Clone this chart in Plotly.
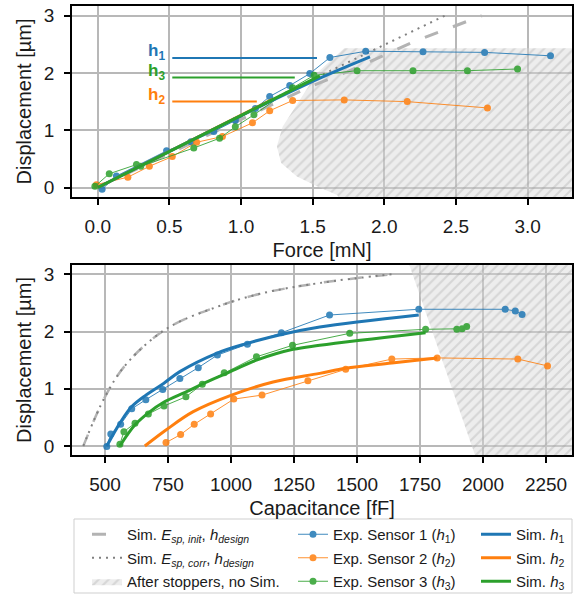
import plotly.graph_objects as go

BLUE = '#1f77b4'
ORANGE = '#ff7f0e'
GREEN = '#2ca02c'
GRAY_DASH = '#b3b3b3'
GRAY_DOT = '#808080'

# ---------------- Top panel: Force [mN] vs Displacement [um] ----------------
exp1_force = [0.03, 0.13, 0.48, 0.65, 0.81, 0.96, 1.10, 1.20, 1.34, 1.48, 1.62, 1.87, 2.27, 2.70, 3.16]
exp1_disp = [-0.03, 0.20, 0.64, 0.80, 0.98, 1.17, 1.38, 1.59, 1.78, 1.99, 2.27, 2.38, 2.37, 2.36, 2.30]
exp2_force = [-0.01, 0.21, 0.36, 0.52, 0.69, 0.87, 1.08, 1.20, 1.36, 1.72, 2.16, 2.72]
exp2_disp = [0.05, 0.18, 0.37, 0.54, 0.79, 0.89, 1.13, 1.34, 1.52, 1.53, 1.50, 1.39]
exp3_force = [-0.02, 0.08, 0.27, 0.30, 0.67, 0.85, 0.96, 1.09, 1.36, 1.51, 1.81, 2.20, 2.58, 2.93]
exp3_disp = [0.02, 0.24, 0.40, 0.37, 0.69, 0.86, 1.06, 1.27, 1.74, 1.96, 2.04, 2.04, 2.04, 2.07]

sim1_force = [0, 1.41, 1.90]
sim1_disp = [0, 1.75, 2.28]
sim2_force = [0, 1.22]
sim2_disp = [0, 1.54]
sim3_force = [0, 1.55]
sim3_disp = [0, 1.95]

init_force = [0, 1.26, 1.48, 1.74, 2.21, 2.68]
init_disp = [0, 1.50, 1.76, 2.02, 2.55, 3.00]
corr_force = [0, 1.41, 2.43]
corr_disp = [0, 1.78, 3.01]

stop_force = [1.72, 1.53, 1.41, 1.29, 1.25, 1.28, 1.39, 1.53, 1.67, 1.72, 3.5, 3.5, 1.72]
stop_disp = [2.43, 2.00, 1.53, 1.06, 0.72, 0.43, 0.19, 0.02, -0.13, -0.3, -0.3, 2.43, 2.43]

# gap marker lines (h1, h2, h3)
gap_names = ['h<sub>1</sub>', 'h<sub>2</sub>', 'h<sub>3</sub>']
gap_levels = [2.26, 1.50, 1.92]
gap_line_start = [0.52, 0.52, 0.52]
gap_line_end = [1.53, 1.11, 1.375]
gap_colors = [BLUE, ORANGE, GREEN]

# ---------------- Bottom panel: Capacitance [fF] vs Displacement [um] --------
exp1_cap = [507, 523, 562, 606, 662, 729, 797, 870, 946, 1065, 1200, 1391, 1745, 2088, 2128, 2155]
exp1_disp_c = [-0.01, 0.21, 0.38, 0.65, 0.81, 0.99, 1.18, 1.37, 1.59, 1.78, 1.98, 2.29, 2.39, 2.39, 2.36, 2.30]
exp2_cap = [742, 800, 854, 919, 1011, 1123, 1305, 1455, 1638, 1818, 2138, 2256]
exp2_disp_c = [0.06, 0.20, 0.38, 0.56, 0.82, 0.89, 1.14, 1.34, 1.52, 1.54, 1.52, 1.40]
exp3_cap = [559, 575, 619, 672, 734, 821, 886, 973, 1101, 1244, 1471, 1772, 1896, 1917, 1935]
exp3_disp_c = [0.03, 0.25, 0.40, 0.56, 0.70, 0.86, 1.08, 1.28, 1.56, 1.76, 1.97, 2.04, 2.04, 2.05, 2.09]

sim1_cap = [507, 559, 606, 662, 731, 797, 943, 1061, 1200, 1352, 1745]
sim1_disp_c = [0, 0.40, 0.69, 0.89, 1.09, 1.30, 1.62, 1.79, 1.95, 2.08, 2.29]
sim2_cap = [658, 742, 850, 1002, 1167, 1352, 1455, 1638, 1818]
sim2_disp_c = [0, 0.28, 0.60, 0.89, 1.12, 1.27, 1.36, 1.45, 1.54]
sim3_cap = [559, 619, 672, 731, 824, 889, 982, 1101, 1246, 1352, 1772]
sim3_disp_c = [0, 0.37, 0.58, 0.76, 0.95, 1.09, 1.27, 1.50, 1.69, 1.76, 1.98]

design_cap = [414, 500, 586, 744, 943, 1114, 1352, 1655]
design_disp_c = [0, 0.86, 1.44, 2.05, 2.43, 2.66, 2.85, 3.01]

stop_cap = [1697, 1979, 2450, 2450, 1697]
stop_disp_c = [3.3, -0.3, -0.3, 3.3, 3.3]

FONT = 'Liberation Sans, Arial, sans-serif'
TXT = '#1a1a1a'

fig = go.Figure()

hatch = dict(fill='toself', mode='lines', line=dict(width=0), fillcolor='rgba(200,200,200,0.45)',
             fillpattern=dict(shape='/', fgcolor='rgba(150,150,150,0.55)', bgcolor='rgba(215,215,215,0.45)',
                              size=7, solidity=0.3, fillmode='overlay'),
             hoverinfo='skip')

# hatched regions
fig.add_trace(go.Scatter(x=stop_force, y=stop_disp, xaxis='x', yaxis='y', name='After stoppers, no Sim.',
                         legend='legend', legendrank=3, legendgroup='stop', **hatch))
fig.add_trace(go.Scatter(x=stop_cap, y=stop_disp_c, xaxis='x2', yaxis='y2', name='After stoppers, no Sim.',
                         legendgroup='stop', showlegend=False, **hatch))

# gray simulated design lines
init_name = 'Sim. <i>E</i><sub><i>sp, init</i></sub>, <i>h</i><sub><i>design</i></sub>'
corr_name = 'Sim. <i>E</i><sub><i>sp, corr</i></sub>, <i>h</i><sub><i>design</i></sub>'
fig.add_trace(go.Scatter(x=init_force, y=init_disp, xaxis='x', yaxis='y', mode='lines', name=init_name,
                         line=dict(color=GRAY_DASH, width=3, dash='14px,16px'),
                         legend='legend', legendrank=1, legendgroup='init'))
fig.add_trace(go.Scatter(x=design_cap, y=design_disp_c, xaxis='x2', yaxis='y2', mode='lines', name=init_name,
                         line=dict(color=GRAY_DASH, width=2.5, dash='12px,14px', shape='spline'),
                         showlegend=False, legendgroup='init'))
fig.add_trace(go.Scatter(x=corr_force, y=corr_disp, xaxis='x', yaxis='y', mode='lines', name=corr_name,
                         line=dict(color=GRAY_DOT, width=2, dash='2px,5px'),
                         legend='legend', legendrank=2, legendgroup='corr'))
fig.add_trace(go.Scatter(x=design_cap, y=design_disp_c, xaxis='x2', yaxis='y2', mode='lines', name=corr_name,
                         line=dict(color=GRAY_DOT, width=2, dash='2px,5px', shape='spline'),
                         showlegend=False, legendgroup='corr'))

# experiments
exps = [
    (exp1_force, exp1_disp, exp1_cap, exp1_disp_c, BLUE, 'Exp. Sensor 1 (<i>h</i><sub>1</sub>)', 'e1'),
    (exp2_force, exp2_disp, exp2_cap, exp2_disp_c, ORANGE, 'Exp. Sensor 2 (<i>h</i><sub>2</sub>)', 'e2'),
    (exp3_force, exp3_disp, exp3_cap, exp3_disp_c, GREEN, 'Exp. Sensor 3 (<i>h</i><sub>3</sub>)', 'e3'),
]
for i, (fx, fy, cx, cy, col, nm, grp) in enumerate(exps):
    fig.add_trace(go.Scatter(x=fx, y=fy, xaxis='x', yaxis='y', mode='lines+markers', name=nm,
                             line=dict(color=col, width=1), marker=dict(color=col, size=7),
                             opacity=0.85, legend='legend2', legendrank=i + 1, legendgroup=grp))
    fig.add_trace(go.Scatter(x=cx, y=cy, xaxis='x2', yaxis='y2', mode='lines+markers', name=nm,
                             line=dict(color=col, width=1), marker=dict(color=col, size=7),
                             opacity=0.85, showlegend=False, legendgroup=grp))

# simulations
sims = [
    (sim2_force, sim2_disp, sim2_cap, sim2_disp_c, ORANGE, 'Sim. <i>h</i><sub>2</sub>', 's2', 2),
    (sim1_force, sim1_disp, sim1_cap, sim1_disp_c, BLUE, 'Sim. <i>h</i><sub>1</sub>', 's1', 1),
    (sim3_force, sim3_disp, sim3_cap, sim3_disp_c, GREEN, 'Sim. <i>h</i><sub>3</sub>', 's3', 3),
]
for fx, fy, cx, cy, col, nm, grp, rk in sims:
    fig.add_trace(go.Scatter(x=fx, y=fy, xaxis='x', yaxis='y', mode='lines', name=nm,
                             line=dict(color=col, width=3, shape='spline'),
                             legend='legend3', legendrank=rk, legendgroup=grp))
    fig.add_trace(go.Scatter(x=cx, y=cy, xaxis='x2', yaxis='y2', mode='lines', name=nm,
                             line=dict(color=col, width=3, shape='spline'),
                             showlegend=False, legendgroup=grp))

# gap lines and labels
label_x = 0.41
label_dy = 0.1
for nm, lvl, x0, x1, col in zip(gap_names, gap_levels, gap_line_start, gap_line_end, gap_colors):
    fig.add_shape(type='line', xref='x', yref='y', x0=x0, x1=x1, y0=lvl, y1=lvl,
                  line=dict(color=col, width=2))
    fig.add_annotation(x=label_x, y=lvl + label_dy, xref='x', yref='y', text='<b>' + nm + '</b>',
                       showarrow=False, font=dict(size=17, color=col, family=FONT))

axis_common = dict(showline=True, linecolor='black', linewidth=1.5, mirror=True,
                   ticks='outside', ticklen=6, tickwidth=1.5, tickcolor='black',
                   showgrid=True, gridcolor='#b8b8b8', gridwidth=1.5, zeroline=False,
                   tickfont=dict(size=19, color=TXT, family=FONT),
                   title_font=dict(size=20, color=TXT, family=FONT))

PLOT_TOP, PLOT_BOT = 6, 455
H = PLOT_BOT - PLOT_TOP

def ydom(top_px, bot_px):
    return [(PLOT_BOT - bot_px) / H, (PLOT_BOT - top_px) / H]

def ypaper(px):
    return (PLOT_BOT - px) / H

W = 574 - 72 - 2

def xpaper(px):
    return (px - 72) / W

legend_style = dict(xanchor='left', yanchor='top', bgcolor='rgba(0,0,0,0)',
                    font=dict(size=15, color=TXT, family=FONT), tracegroupgap=1, itemwidth=30)

fig.update_layout(
    width=574, height=595,
    margin=dict(l=72, r=2, t=PLOT_TOP, b=595 - PLOT_BOT, autoexpand=False),
    plot_bgcolor='white', paper_bgcolor='white',
    font=dict(family=FONT, color=TXT),
    xaxis=dict(domain=[0, 1], anchor='y', range=[-0.18, 3.31], tickvals=[0, 0.5, 1, 1.5, 2, 2.5, 3],
               ticktext=['0.0', '0.5', '1.0', '1.5', '2.0', '2.5', '3.0'], ticklabelstandoff=5,
               title=dict(text='Force [mN]', standoff=7), **axis_common),
    yaxis=dict(domain=ydom(6, 197), anchor='x', range=[-0.166, 3.17], tickvals=[0, 1, 2, 3],
               ticklabelstandoff=6,
               title=dict(text='Displacement [µm]', standoff=7), **axis_common),
    xaxis2=dict(domain=[0, 1], anchor='y2', range=[369, 2353], tickvals=[500, 750, 1000, 1250, 1500, 1750, 2000, 2250],
                ticklabelstandoff=5,
                title=dict(text='Capacitance [fF]', standoff=7), **axis_common),
    yaxis2=dict(domain=ydom(265, 455), anchor='x2', range=[-0.157, 3.164], tickvals=[0, 1, 2, 3],
                ticklabelstandoff=6,
                title=dict(text='Displacement [µm]', standoff=7), **axis_common),
    legend=dict(x=xpaper(87), y=ypaper(518), **legend_style),
    legend2=dict(x=xpaper(293), y=ypaper(518), **legend_style),
    legend3=dict(x=xpaper(476), y=ypaper(518), **legend_style),
    showlegend=True,
)

# legend frame
fig.add_shape(type='rect', xref='paper', yref='paper', x0=xpaper(74), x1=xpaper(572),
              y0=ypaper(593), y1=ypaper(519), line=dict(color='#cfcfcf', width=1), fillcolor='rgba(0,0,0,0)',
              layer='below')

fig.write_html('out.html', config={'displayModeBar': False},
               post_script="document.body.style.margin='0px';document.body.style.overflow='hidden';")
